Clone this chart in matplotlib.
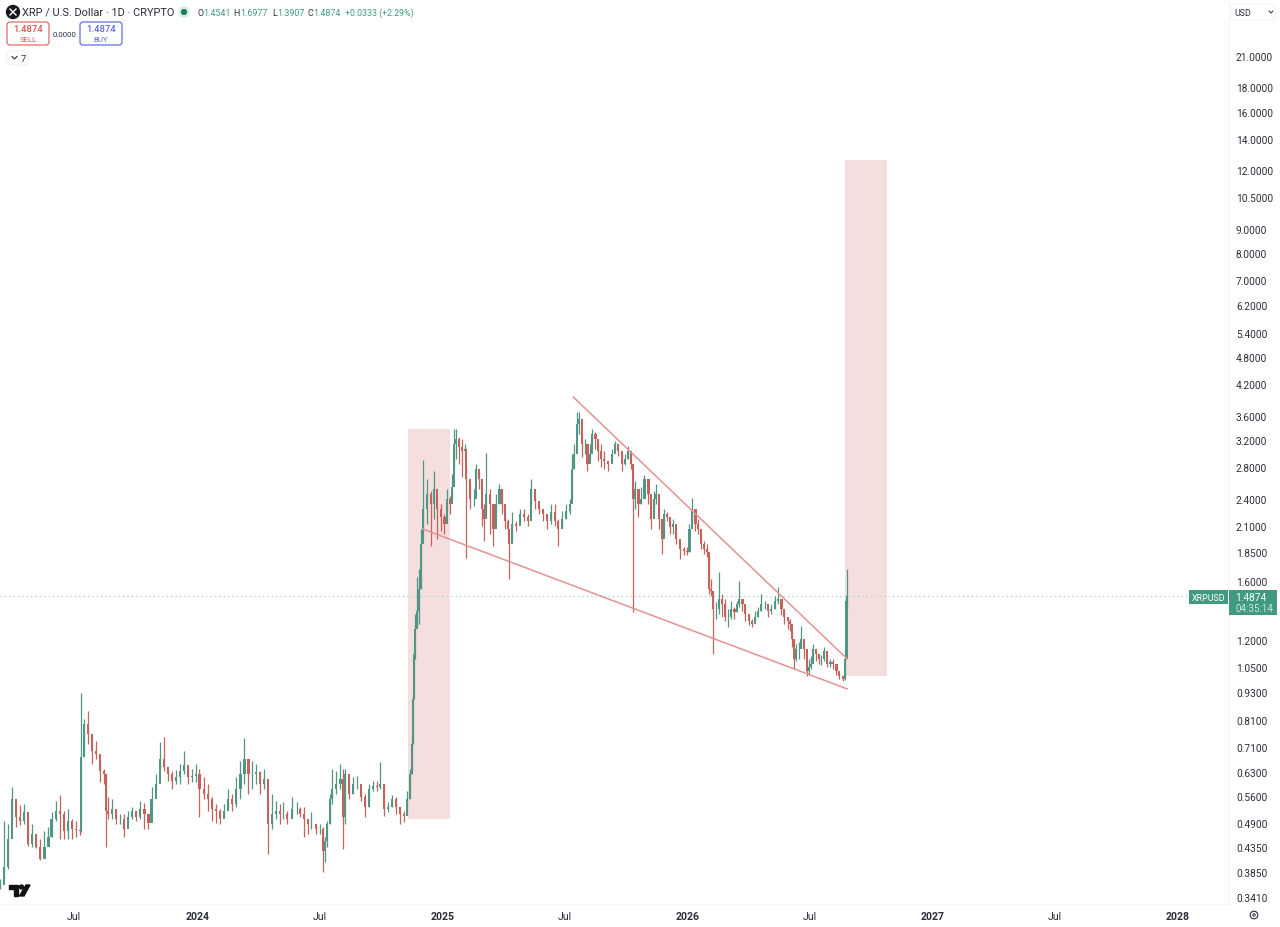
import pandas as pd
import matplotlib
matplotlib.use('Agg')
import matplotlib.pyplot as plt
from matplotlib.patches import Rectangle, FancyBboxPatch, Circle, Polygon
from matplotlib.ticker import NullLocator

plt.rcParams['font.family'] = ['Roboto', 'DejaVu Sans']

start_date = pd.Timestamp('2023-03-13')

# days since start_date
days = [0, 6, 12, 18, 24, 30, 36, 42, 48, 54, 60, 66, 72, 77, 83, 89, 95, 101, 107, 113, 119, 121,
        125, 131, 137, 143, 149, 155, 158, 161, 167, 173, 179, 185, 191, 197, 203, 209, 215, 221,
        226, 232, 238, 244, 250, 256, 262, 268, 274, 280, 286, 292, 297, 304, 310, 316, 322, 328,
        334, 340, 346, 352, 358, 364, 370, 375, 381, 387, 393, 399, 405, 411, 417, 422, 428, 435,
        443, 447, 453, 459, 463, 471, 477, 481, 484, 487, 492, 495, 501, 507, 511, 514, 520, 526,
        532, 538, 544, 550, 556, 562, 566, 572, 578, 584, 590, 596, 602, 606, 611, 614, 615, 617,
        618, 621, 624, 627, 630, 636, 642, 647, 651, 657, 662, 666, 671, 673, 676, 679, 684, 688,
        693, 694, 700, 706, 709, 714, 718, 721, 724, 730, 735, 739, 744, 748, 752, 757, 758, 763,
        769, 775, 781, 787, 791, 797, 803, 809, 815, 821, 827, 831, 837, 843, 849, 852, 855, 860,
        863, 867, 872, 875, 879, 882, 887, 891, 895, 900, 906, 912, 916, 921, 927, 931, 936, 940,
        943, 946, 951, 955, 960, 966, 970, 974, 977, 982, 986, 989, 994, 998, 1003, 1007, 1013,
        1019, 1024, 1027, 1031, 1036, 1040, 1044, 1049, 1053, 1056, 1059, 1062, 1067, 1071, 1076,
        1080, 1085, 1089, 1094, 1098, 1101, 1106, 1110, 1116, 1120, 1125, 1129, 1134, 1140, 1144,
        1149, 1155, 1159, 1164, 1168, 1174, 1177, 1180, 1183, 1186, 1190, 1193, 1198, 1202, 1205,
        1208, 1211, 1216, 1220, 1223, 1228, 1232, 1237, 1241, 1246, 1250, 1256, 1259, 1261, 1262]

closes = [.362, .395, .453, .551, .505, .495, .517, .442, .464, .436, .411, .436, .458, .500, .520,
          .512, .471, .495, .476, .474, .471, .677, .796, .758, .697, .687, .632, .623, .520, .512,
          .525, .500, .500, .476, .505, .520, .505, .525, .512, .490, .551, .593, .670, .645, .623,
          .602, .614, .632, .651, .614, .617, .623, .579, .565, .551, .525, .520, .500, .520, .551,
          .538, .579, .623, .670, .623, .623, .629, .593, .608, .488, .512, .520, .512, .512, .500,
          .525, .525, .512, .500, .488, .488, .476, .476, .427, .449, .488, .551, .579, .593, .608,
          .505, .623, .565, .593, .593, .556, .530, .579, .588, .585, .593, .525, .530, .551, .530,
          .512, .507, .551, .623, .722, .900, 1.122, 1.268, 1.385, 1.543, 1.923, 2.283, 2.457, 2.340,
          2.518, 2.283, 2.195, 2.122, 2.398, 2.340, 2.545, 3.140, 3.216, 3.095, 3.030, 3.063, 2.645,
          2.398, 2.398, 2.778, 2.645, 2.283, 2.174, 2.457, 2.340, 2.070, 2.340, 2.518, 2.340, 2.150,
          2.070, 1.923, 2.122, 2.100, 2.228, 2.195, 2.150, 2.518, 2.375, 2.283, 2.228, 2.150, 2.250,
          2.150, 2.070, 2.174, 2.260, 2.340, 2.778, 2.990, 3.464, 3.546, 3.140, 3.140, 2.847, 2.990,
          3.298, 3.216, 3.030, 2.917, 2.890, 2.847, 2.990, 3.140, 3.030, 2.847, 2.917, 3.030, 2.847,
          2.398, 2.518, 2.340, 2.398, 2.645, 2.457, 2.174, 2.398, 2.457, 2.174, 1.971, 2.228, 2.195,
          2.090, 2.122, 1.971, 1.877, 1.860, 1.850, 2.070, 2.283, 2.122, 2.070, 1.923, 1.877, 1.850,
          1.543, 1.530, 1.399, 1.399, 1.469, 1.433, 1.345, 1.345, 1.399, 1.378, 1.433, 1.469, 1.433,
          1.365, 1.320, 1.299, 1.345, 1.385, 1.433, 1.433, 1.385, 1.399, 1.455, 1.469, 1.399, 1.345,
          1.320, 1.299, 1.207, 1.095, 1.150, 1.150, 1.207, 1.150, 1.032, 1.052, 1.068, 1.150, 1.122,
          1.095, 1.095, 1.138, 1.068, 1.078, 1.068, 1.032, 1.007, .992, 1.095, 1.4541, 1.4874]

highs = [.3725, .495, .488, .585, .538, .535, .538, .485, .488, .464, .453, .471, .481, .517, .546,
         .562, .520, .525, .500, .495, .485, .926, .816, .848, .758, .733, .663, .638, .623, .556,
         .551, .520, .512, .512, .520, .530, .520, .546, .541, .512, .585, .623, .729, .747, .638,
         .632, .635, .654, .697, .645, .638, .654, .638, .614, .593, .556, .538, .525, .538, .579,
         .565, .614, .663, .743, .670, .663, .654, .632, .638, .551, .565, .546, .538, .543, .520,
         .556, .543, .530, .530, .500, .517, .488, .488, .481, .458, .495, .565, .638, .632, .654,
         .638, .638, .593, .614, .617, .579, .565, .593, .602, .602, .660, .593, .543, .562, .556,
         .530, .520, .573, .638, .747, .922, 1.178, 1.365, 1.636, 1.702, 2.070, 2.900, 2.645, 2.495,
         2.745, 2.365, 2.340, 2.228, 2.518, 2.430, 2.711, 3.380, 3.380, 3.250, 3.216, 3.140, 2.847,
         2.581, 2.518, 2.847, 2.750, 2.398, 2.340, 3.005, 2.518, 2.340, 2.457, 2.581, 2.518, 2.260,
         2.174, 2.070, 2.250, 2.150, 2.283, 2.283, 2.228, 2.645, 2.457, 2.340, 2.283, 2.228, 2.340,
         2.340, 2.174, 2.260, 2.340, 2.398, 2.990, 3.140, 3.675, 3.675, 3.330, 3.216, 3.063, 3.140,
         3.380, 3.330, 3.140, 3.140, 3.030, 2.890, 3.063, 3.185, 3.110, 2.990, 2.990, 3.110, 2.945,
         2.805, 2.620, 2.430, 2.545, 2.697, 2.581, 2.398, 2.495, 2.581, 2.305, 2.122, 2.283, 2.250,
         2.174, 2.174, 2.040, 1.923, 1.895, 1.895, 2.122, 2.410, 2.195, 2.174, 2.020, 1.950, 1.923,
         1.831, 1.620, 1.505, 1.447, 1.677, 1.505, 1.469, 1.399, 1.455, 1.413, 1.455, 1.605, 1.469,
         1.413, 1.358, 1.332, 1.385, 1.413, 1.505, 1.455, 1.413, 1.433, 1.490, 1.557, 1.455, 1.385,
         1.345, 1.332, 1.255, 1.207, 1.178, 1.190, 1.285, 1.167, 1.068, 1.095, 1.110, 1.178, 1.138,
         1.122, 1.116, 1.160, 1.095, 1.095, 1.095, 1.052, 1.022, 1.007, 1.150, 1.469, 1.6977]

lows = [.355, .3725, .391, .500, .481, .485, .488, .438, .436, .434, .409, .415, .440, .458, .495,
        .453, .453, .453, .453, .458, .462, .468, .677, .722, .654, .670, .600, .593, .436, .500,
        .500, .488, .488, .458, .488, .500, .495, .500, .476, .476, .535, .573, .638, .632, .602,
        .579, .593, .593, .623, .593, .600, .600, .505, .551, .520, .495, .490, .488, .505, .525,
        .520, .530, .551, .593, .565, .579, .593, .565, .579, .421, .476, .500, .488, .500, .488,
        .505, .512, .505, .458, .464, .476, .464, .464, .385, .405, .436, .488, .538, .565, .579,
        .431, .488, .551, .565, .579, .546, .505, .530, .573, .573, .579, .507, .517, .530, .512,
        .488, .492, .512, .551, .623, .722, .900, 1.095, 1.280, 1.299, 1.543, 1.971, 2.122, 1.905,
        2.174, 1.971, 2.050, 2.020, 2.283, 2.228, 2.398, 2.778, 2.917, 2.847, 2.670, 2.917, 1.795,
        2.283, 2.317, 2.581, 2.518, 2.100, 1.950, 2.195, 2.020, 1.905, 2.195, 2.340, 2.228, 2.070,
        2.000, 1.620, 1.971, 2.050, 2.122, 2.150, 2.100, 2.340, 2.283, 2.228, 2.150, 2.070, 2.122,
        2.100, 1.905, 2.090, 2.174, 2.228, 2.398, 2.778, 3.298, 3.298, 2.945, 2.990, 2.750, 2.890,
        3.140, 3.063, 2.890, 2.805, 2.778, 2.750, 2.890, 3.030, 2.960, 2.745, 2.835, 2.917, 2.778,
        1.378, 2.283, 2.195, 2.340, 2.555, 2.340, 2.070, 2.283, 2.340, 2.070, 1.831, 2.000, 2.150,
        2.020, 2.020, 1.923, 1.787, 1.822, 1.822, 1.850, 2.122, 2.050, 2.020, 1.877, 1.831, 1.805,
        1.505, 1.490, 1.122, 1.332, 1.365, 1.345, 1.320, 1.280, 1.332, 1.332, 1.378, 1.413, 1.385,
        1.320, 1.293, 1.280, 1.320, 1.345, 1.385, 1.399, 1.345, 1.365, 1.399, 1.433, 1.358, 1.299,
        1.268, 1.255, 1.160, 1.042, 1.085, 1.095, 1.160, 1.095, 1.007, 1.012, 1.042, 1.095, 1.085,
        1.068, 1.063, 1.085, 1.052, 1.052, 1.042, 1.012, .992, .982, .987, 1.095, 1.3907]

# shaded projection boxes: (first day, last day, low price, high price)
box_days = [(608, 671), (1259, 1322)]
box_prices = [(.500, 3.38), (1.005, 12.6)]

# trend lines, (day, price) end points
top_line_days = [854, 1262]
top_line_prices = [3.95, 1.095]
low_line_days = [630, 1262]
low_line_prices = [2.068, .945]

last_price = 1.4874

price_ticks = [21, 18, 16, 14, 12, 10.5, 9, 8, 7, 6.2, 5.4, 4.8, 4.2, 3.6, 3.2, 2.8, 2.4, 2.1, 1.85,
               1.6, 1.2, 1.05, .93, .81, .71, .63, .56, .49, .435, .385, .341]
date_ticks = ['2023-07-01', '2024-01-01', '2024-07-01', '2025-01-01', '2025-07-01', '2026-01-01',
              '2026-07-01', '2027-01-01', '2027-07-01', '2028-01-01']
date_labels = ['Jul', '2024', 'Jul', '2025', 'Jul', '2026', 'Jul', '2027', 'Jul', '2028']

UP = '#4f9683'
DOWN = '#c4635c'
PINK = '#f5dfde'
LINE = '#e29393'
TEXT = '#2a2e39'
GREEN = '#3f9a80'

fig = plt.figure(figsize=(12.8, 9.28), dpi=100)
ax = fig.add_axes([0, 23 / 928, 1229 / 1280, 905 / 928])
ax.set_yscale('log')
ax.set_xlim(0, 1831)
ax.set_ylim(.3293, 27.77)

for (d0, d1), (p0, p1) in zip(box_days, box_prices):
    ax.add_patch(Rectangle((d0, p0), d1 - d0, p1 - p0, facecolor=PINK, edgecolor='none', zorder=1))

ax.axhline(last_price, color='#a5cfc2', lw=0.9, ls=(0, (1, 2.5)), zorder=2)

opens = [closes[0]] + closes[:-1]
opens[-1] = 1.4541
colors = [UP if c >= o else DOWN for o, c in zip(opens, closes)]
bottoms = [min(o, c) for o, c in zip(opens, closes)]
heights = [abs(o - c) for o, c in zip(opens, closes)]
ax.vlines(days, lows, highs, colors=colors, lw=0.9, zorder=3)
ax.bar(days, heights, bottom=bottoms, width=3.6, color=colors, lw=0, zorder=4)

ax.plot(top_line_days, top_line_prices, color=LINE, lw=1.1, zorder=5)
ax.plot(low_line_days, low_line_prices, color=LINE, lw=1.1, zorder=5)

ax.yaxis.tick_right()
ax.set_yticks(price_ticks)
ax.set_yticklabels([f'{p:.4f}' for p in price_ticks], fontsize=7.3, color=TEXT)
ax.yaxis.set_minor_locator(NullLocator())
ax.tick_params(axis='y', length=0, pad=5)

ax.set_xticks([(pd.Timestamp(d) - start_date).days for d in date_ticks])
ax.set_xticklabels(date_labels, fontsize=7.6, color=TEXT)
for label in ax.get_xticklabels():
    if label.get_text() != 'Jul':
        label.set_fontweight('bold')
ax.tick_params(axis='x', length=0, pad=5)

for side in ['left', 'top']:
    ax.spines[side].set_visible(False)
for side in ['right', 'bottom']:
    ax.spines[side].set_color('#f5f5f6')
    ax.spines[side].set_linewidth(0.8)

# TradingView style header, badges and logo, placed in image pixels
ui = fig.add_axes([0, 0, 1, 1], facecolor='none')
ui.set_xlim(0, 1280)
ui.set_ylim(928, 0)
ui.axis('off')


def box(x0, y0, x1, y1, edge, face='white', lw=0.9):
    ui.add_patch(FancyBboxPatch((x0, y0), x1 - x0, y1 - y0, boxstyle='round,pad=0,rounding_size=3',
                                facecolor=face, edgecolor=edge, lw=lw))


ui.add_patch(Circle((13, 13), 6.5, color='#16181d'))
ui.plot([10, 16], [10, 16], color='white', lw=1)
ui.plot([10, 16], [16, 10], color='white', lw=1)
ui.text(22, 13, 'XRP / U.S. Dollar · 1D · CRYPTO', fontsize=7.9, color=TEXT, va='center')
ui.add_patch(Circle((184, 13), 5, color='#d8ece6'))
ui.add_patch(Circle((184, 13), 2.4, color='#1f7a63'))

for x, letter in zip([197, 233, 272, 307], 'OHLC'):
    ui.text(x, 13, letter, fontsize=6.4, color=TEXT, va='center', ha='left')
for x, value in zip([203, 240, 277, 313], ['1.4541', '1.6977', '1.3907', '1.4874']):
    ui.text(x, 13, value, fontsize=6.4, color=GREEN, va='center', ha='left')
ui.text(345, 13, '+0.0333 (+2.29%)', fontsize=6.3, color=GREEN, va='center', ha='left')

box(7, 23, 49, 46, '#e06c6c')
ui.text(28, 30, '1.4874', fontsize=6.8, color='#d9534f', ha='center', va='center', fontweight='medium')
ui.text(28, 40, 'SELL', fontsize=5.6, color='#d9534f', ha='center', va='center')
ui.text(64.5, 35, '0.0000', fontsize=5.6, color=TEXT, ha='center', va='center')
box(80, 23, 122, 46, '#6270e0')
ui.text(101, 30, '1.4874', fontsize=6.8, color='#5b6be0', ha='center', va='center', fontweight='medium')
ui.text(101, 40, 'BUY', fontsize=5.6, color='#5b6be0', ha='center', va='center')

box(7, 52, 28, 66, '#eeeff1', lw=0.7)
ui.plot([12, 14.5, 17], [57.5, 60, 57.5], color=TEXT, lw=0.8)
ui.text(23, 59, '7', fontsize=6.8, color=TEXT, ha='center', va='center')

box(1231, 5, 1275, 21, '#eeeff1', lw=0.7)
ui.text(1234, 13, 'USD', fontsize=6.4, color=TEXT, va='center')
ui.plot([1269, 1271, 1273], [12, 14, 12], color=TEXT, lw=0.7)

ui.add_patch(Rectangle((1189, 591), 39, 14, facecolor=GREEN, edgecolor='none'))
ui.text(1208.5, 598.5, 'XRPUSD', fontsize=6.4, color='white', ha='center', va='center')
ui.add_patch(Rectangle((1229, 591), 48, 25, facecolor=GREEN, edgecolor='none'))
ui.text(1235, 598.5, '1.4874', fontsize=7.3, color='white', va='center')
ui.text(1235, 609.5, '04:35:14', fontsize=7, color='#cfe6df', va='center')

ui.add_patch(Polygon([(9, 886), (18, 886), (18, 897), (14, 897), (14, 890), (9, 890)], color='#111111'))
ui.add_patch(Circle((21.5, 888), 2, color='#111111'))
ui.add_patch(Polygon([(26, 886), (30, 886), (24, 897), (19.5, 897)], color='#111111'))

ui.add_patch(Circle((1254, 916), 3.8, facecolor='none', edgecolor=TEXT, lw=0.8))
ui.add_patch(Circle((1254, 916), 1.2, facecolor='none', edgecolor=TEXT, lw=0.7))

fig.savefig('out.png', dpi=100)
